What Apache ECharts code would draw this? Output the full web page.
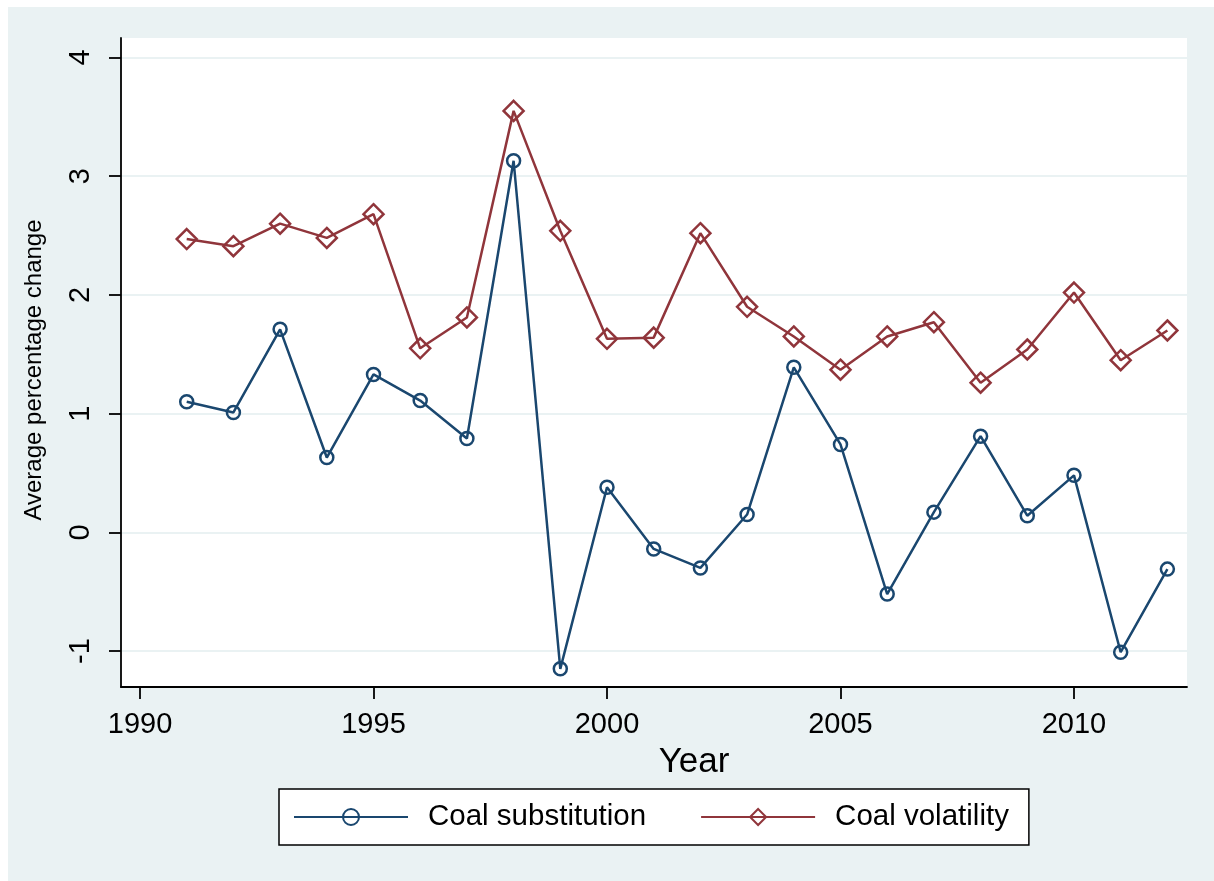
<!DOCTYPE html>
<html>
<head>
<meta charset="utf-8">
<script src="https://cdn.jsdelivr.net/npm/echarts@6/dist/echarts.min.js"></script>
<style>
    html, body { margin: 0; padding: 0; background: #fff; }
    #main { position: absolute; left: 8px; top: 7px; width: 1206px; height: 874px; }
</style>
</head>
<body>
<div id="main"></div>
<script>
// values
var years = [1991, 1992, 1993, 1994, 1995, 1996, 1997, 1998, 1999, 2000, 2001,
             2002, 2003, 2004, 2005, 2006, 2007, 2008, 2009, 2010, 2011, 2012];
var coalSubstitution = [1.10, 1.01, 1.71, 0.63, 1.33, 1.11, 0.79, 3.13, -1.15, 0.38, -0.14,
                        -0.30, 0.15, 1.39, 0.74, -0.52, 0.17, 0.81, 0.14, 0.48, -1.01, -0.31];
var coalVolatility = [2.47, 2.41, 2.60, 2.48, 2.68, 1.55, 1.81, 3.55, 2.54, 1.63, 1.64,
                      2.52, 1.90, 1.65, 1.37, 1.65, 1.77, 1.26, 1.54, 2.02, 1.45, 1.70];
var xTicks = [1990, 1995, 2000, 2005, 2010];
var yTicks = [-1, 0, 1, 2, 3, 4];

var FONT = '"Liberation Sans", Arial, sans-serif';
var BLUE = '#1A476F';
var RED = '#90353B';

function pairs(xs, ys) {
    return xs.map(function(x, i) { return [x, ys[i]]; });
}

var chart = echarts.init(document.getElementById('main'));
var option = {
    backgroundColor: '#EAF2F3',
    animation: false,
    textStyle: { fontFamily: FONT },
    grid: {
        left: 113, top: 31, right: 27, bottom: 194,
        show: true, backgroundColor: '#fff', borderWidth: 0
    },
    xAxis: {
        type: 'value',
        min: 1989.593, max: 2012.42,
        name: 'Year',
        nameLocation: 'middle',
        nameGap: 58,
        // title sits a bit right of the plot centre in the original
        nameTextStyle: { fontSize: 35, color: '#000', fontFamily: FONT, padding: [0, 0, 0, 80] },
        axisLine: { onZero: false, lineStyle: { color: '#000', width: 1.8 } },
        axisTick: { customValues: xTicks, length: 12, lineStyle: { color: '#000', width: 1.8 } },
        axisLabel: {
            customValues: xTicks, margin: 23, fontSize: 29, color: '#000', fontFamily: FONT,
            formatter: function(v) { return String(v); }
        },
        splitLine: { show: false }
    },
    yAxis: {
        type: 'value',
        min: -1.303, max: 4.164,
        name: 'Average percentage change',
        nameLocation: 'middle',
        nameRotate: 90,
        nameGap: 75,
        nameTextStyle: { fontSize: 24, color: '#000', fontFamily: FONT, padding: [0, 15, 0, 0] },
        axisLine: { show: true, lineStyle: { color: '#000', width: 1.8 } },
        axisTick: { show: true, customValues: yTicks, length: 12, lineStyle: { color: '#000', width: 1.8 } },
        axisLabel: { customValues: yTicks, rotate: 90, margin: 26, fontSize: 29, color: '#000', fontFamily: FONT },
        splitLine: { show: true, lineStyle: { color: '#EAF2F3', width: 2 } }
    },
    legend: {
        left: 271, top: 782,
        padding: [12, 20, 12, 14],
        itemWidth: 114, itemHeight: 20, itemGap: 54,
        backgroundColor: '#fff', borderColor: '#000', borderWidth: 1.5,
        textStyle: { fontSize: 29.5, lineHeight: 32, color: '#000', fontFamily: FONT, padding: [0, 0, 0, 15] },
        data: ['Coal substitution', 'Coal volatility']
    },
    series: [
        {
            name: 'Coal substitution',
            type: 'line',
            data: pairs(years, coalSubstitution),
            symbol: 'circle',
            symbolSize: 13,
            itemStyle: { color: 'transparent', borderColor: BLUE, borderWidth: 2.5 },
            lineStyle: { color: BLUE, width: 2.5 },
            emphasis: { disabled: true }
        },
        {
            name: 'Coal volatility',
            type: 'line',
            data: pairs(years, coalVolatility),
            symbol: 'diamond',
            symbolSize: 20,
            itemStyle: { color: 'transparent', borderColor: RED, borderWidth: 2.5 },
            lineStyle: { color: RED, width: 2.5 },
            emphasis: { disabled: true }
        }
    ]
};
chart.setOption(option);
</script>
</body>
</html>
